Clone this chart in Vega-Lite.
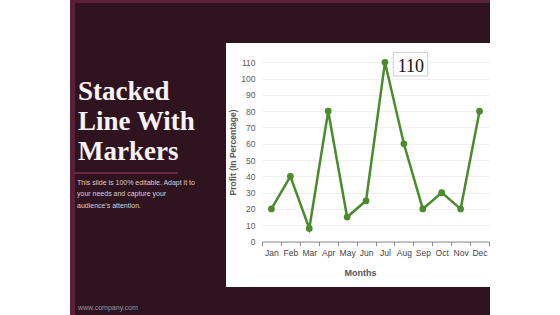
{
  "$schema": "https://vega.github.io/schema/vega-lite/v6.json",
  "background": "#2f1420",
  "padding": 0,
  "spacing": 0,
  "config": {
    "view": {"stroke": null},
    "concat": {"spacing": 0},
    "font": "Liberation Sans"
  },
  "hconcat": [
    {"width": 70, "height": 315, "view": {"fill": "white"}, "data": {"values": []}, "mark": "point"},
    {"width": 5, "height": 315, "view": {"fill": "#5b1f36"}, "data": {"values": []}, "mark": "point"},
    {
      "spacing": 0,
      "vconcat": [
        {"width": 415, "height": 3, "view": {"fill": "#5b1f36"}, "data": {"values": []}, "mark": "point"},
        {
          "spacing": 0,
          "hconcat": [
            {
              "spacing": 0,
              "vconcat": [
                {"width": 151, "height": 75, "data": {"values": []}, "mark": "point"},
                {
                  "width": 103, "height": 2, "view": {"fill": "#6a2940"},
                  "data": {"values": []}, "mark": "point",
                  "title": {
                    "text": ["Stacked", "Line With", "Markers"],
                    "anchor": "start", "font": "Liberation Serif", "fontSize": 27,
                    "fontWeight": "bold", "color": "#f7f2f3", "lineHeight": 30,
                    "offset": 6, "dx": 3
                  }
                },
                {"width": 151, "height": 4, "data": {"values": []}, "mark": "point"},
                {
                  "width": 130, "height": 1, "data": {"values": []}, "mark": "point",
                  "title": {
                    "text": ["This slide is 100% editable. Adapt it to", "your needs and capture your", "audience's attention."],
                    "anchor": "start", "font": "Liberation Sans", "fontSize": 7,
                    "fontWeight": "normal", "color": "#d8cfd2", "lineHeight": 11.7,
                    "offset": 0, "dx": 2
                  }
                },
                {"width": 151, "height": 94, "data": {"values": []}, "mark": "point"},
                {
                  "width": 100, "height": 1, "data": {"values": []}, "mark": "point",
                  "title": {
                    "text": "www.company.com",
                    "anchor": "start", "font": "Liberation Sans", "fontSize": 7,
                    "fontWeight": "normal", "color": "#9e9095", "offset": 0, "dx": 3
                  }
                }
              ]
            },
            {
              "spacing": 0,
              "vconcat": [
                {"width": 264, "height": 40, "data": {"values": []}, "mark": "point"},
                {
                  "width": 264, "height": 244,
                  "view": {"fill": "white"},
                  "data": {"values": [
                    {"month": "Jan", "profit": 20},
                    {"month": "Feb", "profit": 40},
                    {"month": "Mar", "profit": 8},
                    {"month": "Apr", "profit": 80},
                    {"month": "May", "profit": 15},
                    {"month": "Jun", "profit": 25},
                    {"month": "Jul", "profit": 110},
                    {"month": "Aug", "profit": 60},
                    {"month": "Sep", "profit": 20},
                    {"month": "Oct", "profit": 30},
                    {"month": "Nov", "profit": 20},
                    {"month": "Dec", "profit": 80}
                  ]},
                  "encoding": {
                    "x": {
                      "field": "month", "type": "ordinal", "sort": null,
                      "bandPosition": 0.5,
                      "scale": {"type": "band", "range": [36, 263], "paddingInner": 0, "paddingOuter": 0},
                      "axis": {
                        "title": "Months", "offset": -45.5, "tickBand": "extent",
                        "domainColor": "#8a8a8a", "tickColor": "#8a8a8a", "tickSize": 4,
                        "labelAngle": 0, "labelFontSize": 8.5, "labelColor": "#444444",
                        "labelFont": "Liberation Sans", "labelPadding": 3,
                        "titleFont": "Liberation Sans", "titleFontSize": 9, "titleFontWeight": "bold",
                        "titleColor": "#555555", "titlePadding": 11, "titleX": 134, "grid": false
                      }
                    },
                    "y": {
                      "field": "profit", "type": "quantitative",
                      "scale": {"domain": [0, 110], "range": [198.5, 19.3], "nice": false, "zero": false},
                      "axis": {
                        "title": "Profit  (In Percentage)", "offset": -36,
                        "values": [0, 10, 20, 30, 40, 50, 60, 70, 80, 90, 100, 110],
                        "domain": false, "ticks": false, "labelPadding": 7,
                        "labelFontSize": 8.5, "labelColor": "#5a5a5a", "labelFont": "Liberation Sans",
                        "titleFont": "Liberation Sans", "titleFontSize": 8.5, "titleFontWeight": "bold",
                        "titleColor": "#555555", "titlePadding": 3,
                        "grid": true, "gridColor": "#f0f0f0", "gridWidth": 1
                      }
                    }
                  },
                  "layer": [
                    {"mark": {"type": "line", "color": "#4a8b2c", "strokeWidth": 2.5}},
                    {"mark": {"type": "point", "filled": true, "color": "#4a8b2c", "size": 45, "opacity": 1}},
                    {
                      "transform": [{"filter": "datum.month == 'Jul'"}],
                      "mark": {
                        "type": "point", "shape": "M0.478,-0.571L2.478,-0.571L2.478,0.791L0.478,0.791Z",
                        "size": 1190, "filled": true, "fill": "white", "stroke": "#cfcfcf",
                        "strokeWidth": 1, "opacity": 1
                      }
                    },
                    {
                      "transform": [{"filter": "datum.month == 'Jul'"}],
                      "mark": {
                        "type": "text", "font": "Liberation Serif", "fontSize": 18,
                        "color": "#111111", "align": "center", "baseline": "alphabetic",
                        "dx": 26, "dy": 10
                      },
                      "encoding": {"text": {"field": "profit", "type": "quantitative"}}
                    }
                  ]
                }
              ]
            }
          ]
        }
      ]
    },
    {"width": 70, "height": 315, "view": {"fill": "white"}, "data": {"values": []}, "mark": "point"}
  ]
}
